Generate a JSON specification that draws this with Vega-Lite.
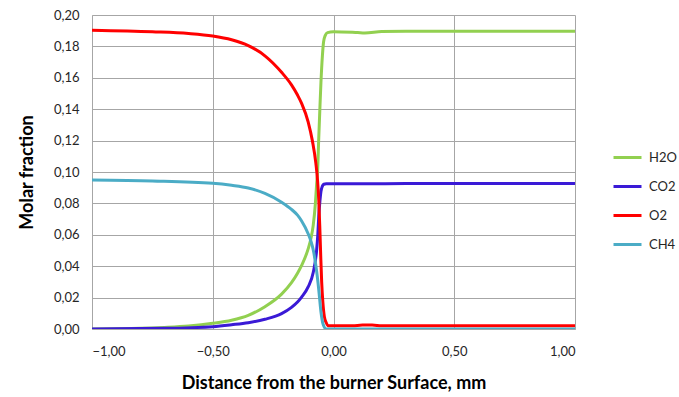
{
  "$schema": "https://vega.github.io/schema/vega-lite/v6.json",
  "width": 483,
  "height": 314,
  "autosize": {"type": "none"},
  "padding": {"left": 92, "top": 15, "right": 104, "bottom": 68},
  "background": "white",
  "config": {
    "view": {"stroke": null},
    "font": "Lato",
    "axis": {"gridColor": "#a6a6a6", "gridWidth": 1, "domainColor": "#a6a6a6", "ticks": false, "labelFont": "Lato", "labelFontSize": 13, "labelColor": "#262626", "titleFont": "Lato", "titleFontSize": 18, "titleFontWeight": "bold", "titleColor": "#000"},
    "legend": {"labelFont": "Lato", "labelFontSize": 13, "labelColor": "#262626"}
  },
  "datasets": {
    "d": [
      {"x": -1.0, "s": "H2O", "y": 0.0}, {"x": -0.8, "s": "H2O", "y": 0.0004}, {"x": -0.7, "s": "H2O", "y": 0.001}, {"x": -0.6, "s": "H2O", "y": 0.0019}, {"x": -0.5, "s": "H2O", "y": 0.0036}, {"x": -0.422, "s": "H2O", "y": 0.0056}, {"x": -0.353, "s": "H2O", "y": 0.0087}, {"x": -0.284, "s": "H2O", "y": 0.0142}, {"x": -0.215, "s": "H2O", "y": 0.0222}, {"x": -0.174, "s": "H2O", "y": 0.0295}, {"x": -0.149, "s": "H2O", "y": 0.0355}, {"x": -0.132, "s": "H2O", "y": 0.0405}, {"x": -0.105, "s": "H2O", "y": 0.051}, {"x": -0.093, "s": "H2O", "y": 0.058}, {"x": -0.084, "s": "H2O", "y": 0.066}, {"x": -0.075, "s": "H2O", "y": 0.08}, {"x": -0.07, "s": "H2O", "y": 0.092}, {"x": -0.066, "s": "H2O", "y": 0.1}, {"x": -0.061, "s": "H2O", "y": 0.122}, {"x": -0.057, "s": "H2O", "y": 0.138}, {"x": -0.052, "s": "H2O", "y": 0.157}, {"x": -0.046, "s": "H2O", "y": 0.174}, {"x": -0.041, "s": "H2O", "y": 0.183}, {"x": -0.034, "s": "H2O", "y": 0.187}, {"x": -0.025, "s": "H2O", "y": 0.1888}, {"x": 0.0, "s": "H2O", "y": 0.1893}, {"x": 0.1, "s": "H2O", "y": 0.1888}, {"x": 0.13, "s": "H2O", "y": 0.1886}, {"x": 0.2, "s": "H2O", "y": 0.1895}, {"x": 0.3, "s": "H2O", "y": 0.1897}, {"x": 1.0, "s": "H2O", "y": 0.1897},
      {"x": -1.0, "s": "CO2", "y": 0.0}, {"x": -0.7, "s": "CO2", "y": 0.0004}, {"x": -0.5, "s": "CO2", "y": 0.0015}, {"x": -0.422, "s": "CO2", "y": 0.0027}, {"x": -0.353, "s": "CO2", "y": 0.004}, {"x": -0.284, "s": "CO2", "y": 0.0062}, {"x": -0.215, "s": "CO2", "y": 0.0098}, {"x": -0.174, "s": "CO2", "y": 0.0138}, {"x": -0.149, "s": "CO2", "y": 0.0172}, {"x": -0.132, "s": "CO2", "y": 0.0203}, {"x": -0.105, "s": "CO2", "y": 0.0268}, {"x": -0.084, "s": "CO2", "y": 0.036}, {"x": -0.07, "s": "CO2", "y": 0.05}, {"x": -0.065, "s": "CO2", "y": 0.06}, {"x": -0.061, "s": "CO2", "y": 0.072}, {"x": -0.056, "s": "CO2", "y": 0.082}, {"x": -0.052, "s": "CO2", "y": 0.0875}, {"x": -0.046, "s": "CO2", "y": 0.091}, {"x": -0.04, "s": "CO2", "y": 0.0922}, {"x": -0.03, "s": "CO2", "y": 0.0925}, {"x": 0.3, "s": "CO2", "y": 0.0926}, {"x": 1.0, "s": "CO2", "y": 0.0927},
      {"x": -1.0, "s": "O2", "y": 0.1903}, {"x": -0.75, "s": "O2", "y": 0.1893}, {"x": -0.6, "s": "O2", "y": 0.1882}, {"x": -0.5, "s": "O2", "y": 0.1866}, {"x": -0.422, "s": "O2", "y": 0.1842}, {"x": -0.353, "s": "O2", "y": 0.1805}, {"x": -0.284, "s": "O2", "y": 0.174}, {"x": -0.215, "s": "O2", "y": 0.1635}, {"x": -0.174, "s": "O2", "y": 0.1555}, {"x": -0.149, "s": "O2", "y": 0.149}, {"x": -0.132, "s": "O2", "y": 0.1437}, {"x": -0.105, "s": "O2", "y": 0.132}, {"x": -0.087, "s": "O2", "y": 0.1195}, {"x": -0.073, "s": "O2", "y": 0.1055}, {"x": -0.066, "s": "O2", "y": 0.0945}, {"x": -0.061, "s": "O2", "y": 0.082}, {"x": -0.057, "s": "O2", "y": 0.066}, {"x": -0.053, "s": "O2", "y": 0.047}, {"x": -0.049, "s": "O2", "y": 0.03}, {"x": -0.044, "s": "O2", "y": 0.017}, {"x": -0.038, "s": "O2", "y": 0.008}, {"x": -0.03, "s": "O2", "y": 0.004}, {"x": -0.022, "s": "O2", "y": 0.002}, {"x": 0.08, "s": "O2", "y": 0.0021}, {"x": 0.12, "s": "O2", "y": 0.0025}, {"x": 0.16, "s": "O2", "y": 0.0025}, {"x": 0.2, "s": "O2", "y": 0.002}, {"x": 1.0, "s": "O2", "y": 0.002},
      {"x": -1.0, "s": "CH4", "y": 0.0949}, {"x": -0.75, "s": "CH4", "y": 0.0943}, {"x": -0.5, "s": "CH4", "y": 0.0928}, {"x": -0.422, "s": "CH4", "y": 0.0915}, {"x": -0.353, "s": "CH4", "y": 0.0898}, {"x": -0.284, "s": "CH4", "y": 0.0864}, {"x": -0.215, "s": "CH4", "y": 0.0808}, {"x": -0.174, "s": "CH4", "y": 0.0762}, {"x": -0.149, "s": "CH4", "y": 0.0725}, {"x": -0.132, "s": "CH4", "y": 0.0688}, {"x": -0.105, "s": "CH4", "y": 0.0607}, {"x": -0.093, "s": "CH4", "y": 0.0557}, {"x": -0.084, "s": "CH4", "y": 0.0505}, {"x": -0.07, "s": "CH4", "y": 0.037}, {"x": -0.061, "s": "CH4", "y": 0.025}, {"x": -0.052, "s": "CH4", "y": 0.011}, {"x": -0.043, "s": "CH4", "y": 0.003}, {"x": -0.03, "s": "CH4", "y": 0.0}, {"x": 1.0, "s": "CH4", "y": 0.0}
    ]
  },
  "data": {"name": "d"},
  "mark": {"type": "line", "strokeWidth": 3, "interpolate": "monotone", "clip": true},
  "encoding": {
    "x": {"field": "x", "type": "quantitative", "scale": {"domain": [-1, 1], "nice": false}, "axis": {"values": [-1, -0.5, 0, 0.5, 1], "labelExpr": "replace(format(datum.value, '.2f'), '.', ',')", "labelPadding": 16, "title": "Distance from the burner Surface, mm", "titlePadding": 16}},
    "y": {"field": "y", "type": "quantitative", "scale": {"domain": [0, 0.2], "nice": false}, "axis": {"values": [0, 0.02, 0.04, 0.06, 0.08, 0.1, 0.12, 0.14, 0.16, 0.18, 0.2], "labelExpr": "replace(format(datum.value, '.2f'), '.', ',')", "labelPadding": 13, "title": "Molar fraction", "titlePadding": 17}},
    "color": {"field": "s", "type": "nominal", "scale": {"domain": ["H2O", "CO2", "O2", "CH4"], "range": ["#92d050", "#3a1ad6", "#ff0000", "#4bacc6"]}, "legend": {"title": null, "orient": "none", "legendX": 520, "legendY": 127, "symbolType": "stroke", "symbolSize": 784, "symbolStrokeWidth": 3, "labelOffset": 6, "rowPadding": 6, "padding": 0}}
  }
}
